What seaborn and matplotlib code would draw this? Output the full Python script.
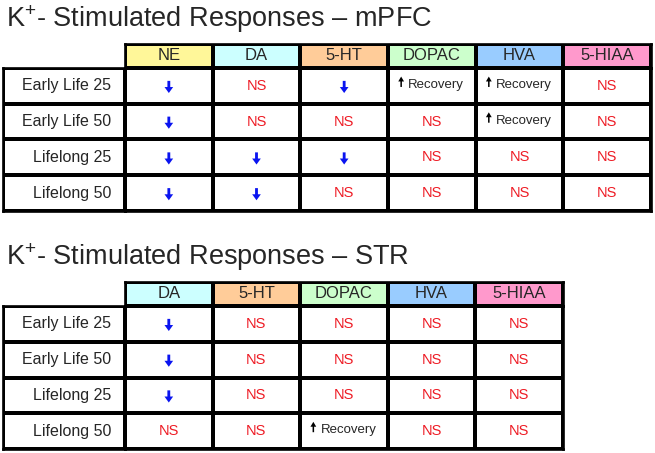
import matplotlib.pyplot as plt
import numpy as np
import seaborn as sns
from matplotlib.colors import ListedColormap

# data
rows = ["Early Life 25", "Early Life 50", "Lifelong 25", "Lifelong 50"]

mpfc_cols = ["NE", "DA", "5-HT", "DOPAC", "HVA", "5-HIAA"]
mpfc_vals = [
    ["down", "NS", "down", "Recovery", "Recovery", "NS"],
    ["down", "NS", "NS", "NS", "Recovery", "NS"],
    ["down", "down", "down", "NS", "NS", "NS"],
    ["down", "down", "NS", "NS", "NS", "NS"],
]

str_cols = ["DA", "5-HT", "DOPAC", "HVA", "5-HIAA"]
str_vals = [
    ["down", "NS", "NS", "NS", "NS"],
    ["down", "NS", "NS", "NS", "NS"],
    ["down", "NS", "NS", "NS", "NS"],
    ["NS", "NS", "Recovery", "NS", "NS"],
]

header_colors = {"NE": "#fff799", "DA": "#ccffff", "5-HT": "#ffcc99",
                 "DOPAC": "#ccffcc", "HVA": "#99ccff", "5-HIAA": "#ff99cc"}

sns.set_theme(style="white")
plt.rcParams["font.family"] = ["Liberation Sans", "DejaVu Sans"]
plt.rcParams["mathtext.fontset"] = "custom"
plt.rcParams["mathtext.rm"] = "Liberation Sans"
plt.rcParams["mathtext.default"] = "regular"

W, H = 655, 453
fig = plt.figure(figsize=(W / 100, H / 100), dpi=100)


def px_axes(x0, y0, x1, y1):
    return fig.add_axes([x0 / W, 1 - y1 / H, (x1 - x0) / W, (y1 - y0) / H])


def frame(ax):
    for s in ax.spines.values():
        s.set_visible(True)
        s.set_linewidth(1.9)
        s.set_color("black")


def draw_table(cols, vals, x_right, y_top, title):
    n = len(cols)
    fig.text(6 / W, 1 - (y_top - 17) / H, title, fontsize=19.5, va="baseline", ha="left")

    # header row
    axh = px_axes(125, y_top, x_right, y_top + 24)
    sns.heatmap(np.arange(1, n + 1).reshape(1, n), ax=axh, cbar=False,
                cmap=ListedColormap([header_colors[c] for c in cols]),
                vmin=0.5, vmax=n + 0.5, linewidths=1.5, linecolor="black",
                xticklabels=False, yticklabels=False)
    for j, c in enumerate(cols):
        axh.text(j + 0.5, 0.5, c, ha="center", va="center", fontsize=12)
    frame(axh)

    body_top = y_top + 24
    body_bot = body_top + 35.75 * len(rows)

    # row labels
    axl = px_axes(3, body_top, 125, body_bot)
    sns.heatmap(np.zeros((len(rows), 1)), ax=axl, cbar=False,
                cmap=ListedColormap(["white"]), linewidths=1.5, linecolor="black",
                xticklabels=False, yticklabels=False)
    for i, r in enumerate(rows):
        axl.text(0.885, i + 0.5, r, ha="right", va="center", fontsize=11.5)
    frame(axl)

    # body cells
    axb = px_axes(125, body_top, x_right, body_bot)
    sns.heatmap(np.zeros((len(rows), n)), ax=axb, cbar=False,
                cmap=ListedColormap(["white"]), linewidths=1.5, linecolor="black",
                xticklabels=False, yticklabels=False)
    for i, row in enumerate(vals):
        for j, v in enumerate(row):
            cx, cy = j + 0.5, i + 0.5
            if v == "NS":
                axb.text(cx, cy, "NS", ha="center", va="center", fontsize=10.5,
                         color="#ee1c25")
            elif v == "down":
                axb.annotate("", xy=(cx, cy + 0.2), xytext=(cx, cy - 0.14),
                             arrowprops=dict(arrowstyle="simple,head_length=0.36,head_width=0.52,tail_width=0.17",
                                             mutation_scale=12, color="#0a14f0", lw=0,
                                             shrinkA=0, shrinkB=0))
            else:
                axb.annotate("", xy=(cx - 0.35, cy - 0.26), xytext=(cx - 0.35, cy + 0.03),
                             arrowprops=dict(arrowstyle="simple,head_length=0.32,head_width=0.38,tail_width=0.1",
                                             mutation_scale=11, color="black", lw=0,
                                             shrinkA=0, shrinkB=0))
                axb.text(cx + 0.05, cy - 0.03, "Recovery", ha="center", va="center",
                         fontsize=9.5)
    frame(axb)


draw_table(mpfc_cols, mpfc_vals, 651, 44, "K$^{+}$- Stimulated Responses – mPFC")
draw_table(str_cols, str_vals, 563, 282, "K$^{+}$- Stimulated Responses – STR")

fig.savefig("out.png", dpi=100)
